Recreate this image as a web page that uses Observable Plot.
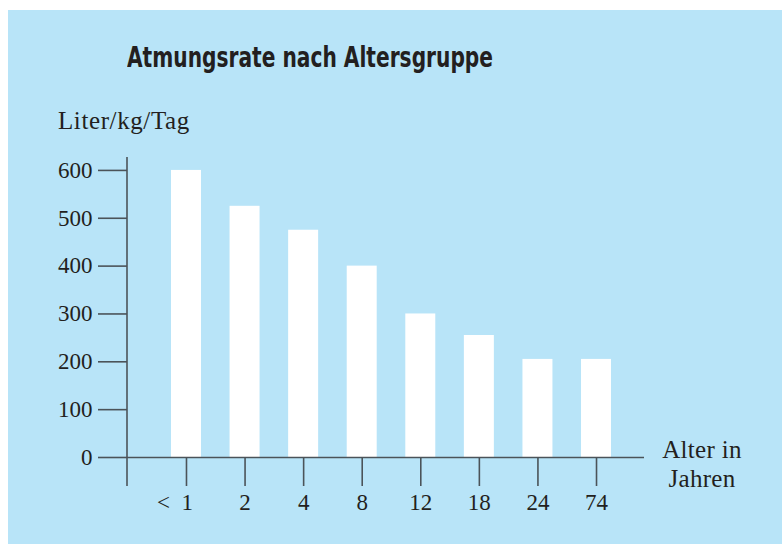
<!DOCTYPE html>
<html>
<head>
<meta charset="utf-8">
<script src="https://cdn.jsdelivr.net/npm/d3@7"></script>
<script src="https://cdn.jsdelivr.net/npm/@observablehq/plot@0.6"></script>
<style>
  html, body { margin: 0; padding: 0; background: #ffffff; }
  #wrap { position: relative; width: 782px; height: 544px; overflow: hidden; }
  #panel { position: absolute; left: 8px; top: 10px; width: 774px; height: 534px; background: #b8e4f8; }
  #chart { position: absolute; left: 0; top: 0; }
  .txt { position: absolute; white-space: nowrap; color: #231f20; }
  #title { left: 127px; top: 42.8px; font-family: "DejaVu Sans Condensed", "DejaVu Sans", sans-serif; font-stretch: condensed; font-weight: bold; font-size: 29px; line-height: 29px; transform-origin: 0 0; }
  #ylab { left: 58px; top: 108px; font-family: "Liberation Serif", serif; font-size: 25px; line-height: 25px; letter-spacing: 0.6px; }
  #xlab { left: 642px; top: 435px; width: 120px; text-align: center; font-family: "Liberation Serif", serif; font-size: 25px; line-height: 29px; letter-spacing: 0.3px; }
</style>
</head>
<body>
<div id="wrap">
  <div id="panel"></div>
  <div id="chart"></div>
  <div class="txt" id="title"></div>
  <div class="txt" id="ylab"></div>
  <div class="txt" id="xlab"></div>
</div>
<script>
const titleText = "Atmungsrate nach Altersgruppe";
const yLabel = "Liter/kg/Tag";
const xLabelLines = ["Alter in", "Jahren"];
const ages = ["< 1", "2", "4", "8", "12", "18", "24", "74"];
const rates = [600, 525, 475, 400, 300, 255, 205, 205];
const yTicks = [0, 100, 200, 300, 400, 500, 600];

const data = ages.map((age, i) => ({age, rate: rates[i]}));

const lineColor = "#4b5359";
const textColor = "#231f20";

const axisLine = (index, scales, values, dims) => {
  const ns = "http://www.w3.org/2000/svg";
  const g = document.createElementNS(ns, "g");
  const l = document.createElementNS(ns, "line");
  l.setAttribute("x1", dims.marginLeft);
  l.setAttribute("x2", dims.marginLeft);
  l.setAttribute("y1", dims.marginTop);
  l.setAttribute("y2", dims.height - dims.marginBottom + 29);
  l.setAttribute("stroke", lineColor);
  l.setAttribute("stroke-width", 1.6);
  g.appendChild(l);
  return g;
};

const fmtX = (d) => d === "< 1" ? "<\u20021\u2002\u2002" : d;

const chart = Plot.plot({
  width: 782,
  height: 544,
  marginLeft: 127,
  marginRight: 138,
  marginTop: 157,
  marginBottom: 87,
  style: {background: "transparent", fontFamily: "'Liberation Serif', serif", fontSize: "23px", color: textColor, overflow: "visible"},
  x: {type: "band", domain: ages, range: [127, 655], paddingInner: 0.488, paddingOuter: 0.751, align: 0.5, round: false},
  y: {domain: [0, 627]},
  marks: [
    Plot.barY(data, {x: "age", y: "rate", fill: "white"}),
    Plot.ruleY([0], {stroke: lineColor, strokeWidth: 1.6}),
    Plot.axisY(yTicks, {anchor: "left", tickSize: 29, tickPadding: 6, stroke: lineColor, strokeWidth: 1.6, fill: textColor, fontSize: 23, label: null, tickFormat: d => String(d)}),
    Plot.axisX({anchor: "bottom", tickSize: 29, tickPadding: 7, stroke: lineColor, strokeWidth: 1.6, fill: textColor, fontSize: 23, label: null, tickFormat: fmtX}),
    axisLine
  ]
});
document.getElementById("chart").appendChild(chart);

const t = document.getElementById("title");
t.textContent = titleText;
const w = t.getBoundingClientRect().width;
t.style.transform = `scaleX(${366 / w})`;
document.getElementById("ylab").textContent = yLabel;
document.getElementById("xlab").innerHTML = xLabelLines.join("<br>");
</script>
</body>
</html>
